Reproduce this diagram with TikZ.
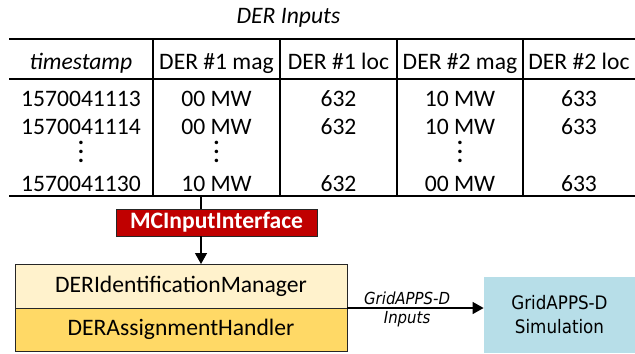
\documentclass[tikz,border=0pt]{standalone}
\usepackage{fontspec}
\setmainfont{Carlito}
\newfontfamily\condfont{DejaVu Sans Condensed}
\usepackage{tikz}
\usetikzlibrary{matrix,arrows.meta,positioning}
\definecolor{mcred}{HTML}{C00000}
\definecolor{idyellow}{HTML}{FFF2CC}
\definecolor{adgold}{HTML}{FFD966}
\definecolor{simblue}{HTML}{B7DEE8}
\newcommand{\tabfont}{\fontsize{11.8}{14}\selectfont}
\newcommand{\simfont}{\condfont\fontsize{9.3}{12}\selectfont}
\newcommand{\lblfont}{\condfont\itshape\fontsize{8.3}{10}\selectfont}
\newcommand{\rowdots}{$\vcenter{\baselineskip=4.5pt\lineskiplimit=0pt\hbox{\textbf{.}}\hbox{\textbf{.}}\hbox{\textbf{.}}}$}

\begin{document}
\begin{tikzpicture}[x=0.5pt,y=-0.5pt,
 cell/.style={inner sep=0pt,outer sep=0pt,text height=8pt,text depth=2.5pt,font=\tabfont},
 rule/.style={line width=0.65pt},
 box/.style={draw=black!85,line width=0.5pt,inner sep=0pt,outer sep=0pt,font=\tabfont},
 flow/.style={line width=0.65pt,-{Triangle[length=5.5pt,width=6pt]}}]
 \useasboundingbox (0,0) rectangle (635,353);
 \node (title) [anchor=base,font=\tabfont\itshape] at (288.5,24) {DER Inputs};
 \matrix (m) [matrix of nodes, anchor=north west, inner sep=0pt, outer sep=0pt, row sep=2pt, column sep=0pt,
  nodes={cell},
  column 1/.style={nodes={minimum width=72pt}},
  column 2/.style={nodes={minimum width=63.5pt}},
  column 3/.style={nodes={minimum width=58.5pt}},
  column 4/.style={nodes={minimum width=63pt}},
  column 5/.style={nodes={minimum width=56pt}}] at (9,53)
  {
   |[font=\tabfont\itshape]| timestamp & DER \#1 mag & DER \#1 loc & DER \#2 mag & DER \#2 loc \\[6pt]
   1570041113 & 00 MW & 632 & 10 MW & 633 \\[1.5pt]
   1570041114 & 00 MW & 632 & 10 MW & 633 \\[-0.5pt]
   \rowdots & \rowdots & & \rowdots & \\[4pt]
   1570041130 & 10 MW & 632 & 00 MW & 633 \\
  };
 \coordinate (htop) at ([yshift=7pt]m.north);
 \coordinate (hmid) at ([yshift=-2.5pt]m-1-1.south);
 \coordinate (hbot) at (m-5-1.south);
 \draw[rule] (m.west |- htop) -- (m.east |- htop);
 \draw[rule] (m.west |- hmid) -- (m.east |- hmid);
 \draw[rule] (m.west |- hbot) -- (m.east |- hbot);
 \foreach \c in {2,...,5}
  \draw[rule] (m-1-\c.west |- htop) -- (m-1-\c.west |- hbot);
 \coordinate (tap) at (201,0 |- hbot);
 \node (mci) [box, fill=mcred, text=white, font=\tabfont\bfseries, minimum width=100.5pt, minimum height=13.5pt] at (216.5,222.5) {MCInputInterface};
 \draw[rule] (tap) -- (tap |- mci.north);
 \node (idm) [box, fill=idyellow, minimum width=166pt, minimum height=22pt] at (181,286) {DERIdentificationManager};
 \node (adh) [box, fill=adgold, minimum width=166pt, minimum height=21.5pt, below=0pt of idm] {DERAssignmentHandler};
 \draw[flow] (tap |- mci.south) -- (tap |- idm.north);
 \node (sim) [fill=simblue, align=center, font=\simfont, minimum width=75.5pt, minimum height=38pt, inner sep=0pt] at (559.5,315) {GridAPPS-D\\Simulation};
 \draw[flow] (adh.north east) -- (sim.west |- adh.north)
  node[pos=0.44, above, inner sep=1.5pt, font=\lblfont] {GridAPPS-D}
  node[pos=0.44, below, inner sep=1.5pt, font=\lblfont] {Inputs};
\end{tikzpicture}
\end{document}
